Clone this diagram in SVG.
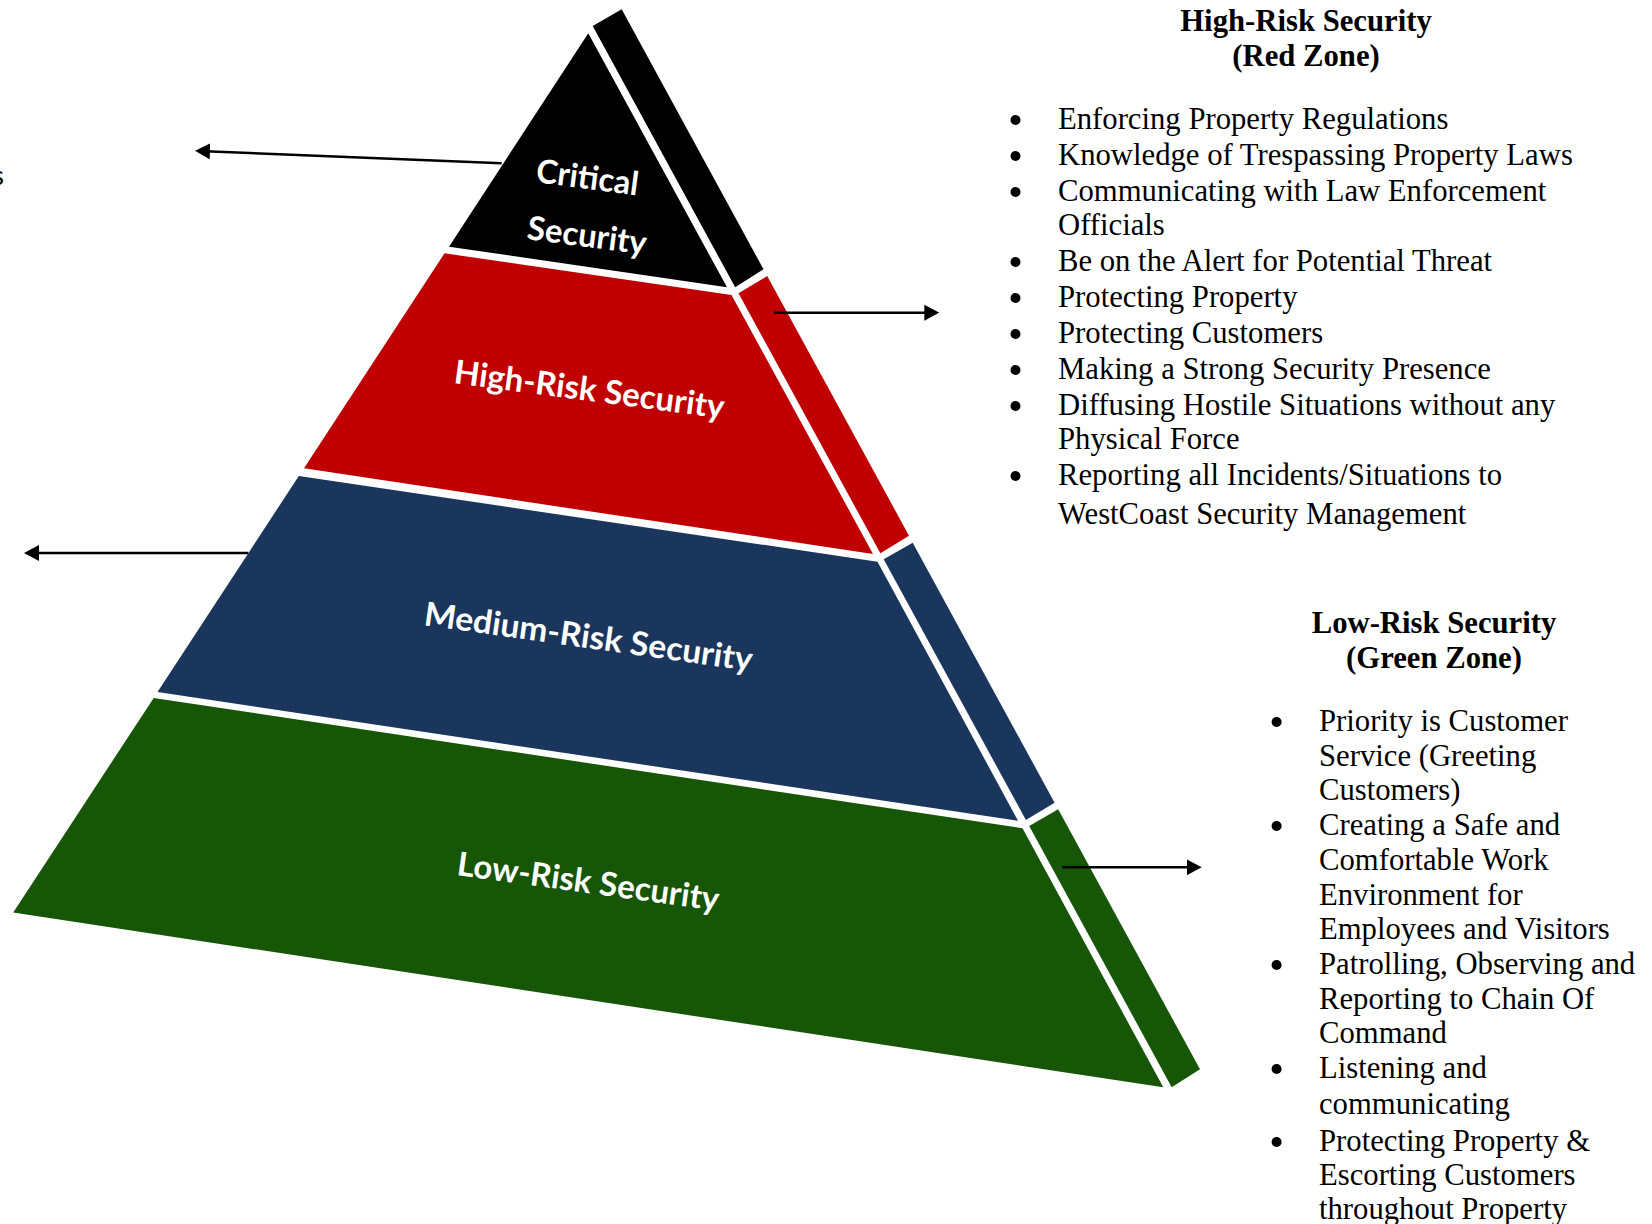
<svg xmlns="http://www.w3.org/2000/svg" width="1652" height="1224" viewBox="0 0 1652 1224">
<style>
.lbl{font-family:Lato,"Open Sans","Liberation Sans",sans-serif;font-weight:700;font-size:33px;fill:#ffffff}
.body{font-family:"Liberation Serif","Times New Roman",serif;font-size:30.7px;fill:#000000}
.head{font-family:"Liberation Serif","Times New Roman",serif;font-size:30.7px;font-weight:700;fill:#000000;text-anchor:middle}
.conn{stroke:#000000;stroke-width:2.5;fill:none}
.dot{fill:#000000}
.frag{font-family:Lato,"Open Sans","Liberation Sans",sans-serif;font-size:27px;fill:#000000}
</style>
<defs>
<marker id="ah" viewBox="0 0 15 16" refX="11" refY="8" markerWidth="15" markerHeight="16" markerUnits="userSpaceOnUse" orient="auto">
<path d="M0,0 L15,8 L0,16 z" fill="#000000"/>
</marker>
</defs>
<rect width="1652" height="1224" fill="#ffffff"/>

<g id="fragment-left">
<text class="frag" x="4" y="185" text-anchor="end">s</text>
</g>

<g id="tier-critical">
<polygon points="588.3,33.3 449,246.7 727,287.3" fill="#000000"/>
<polygon points="592.7,26 621.7,9.3 763.5,269.3 735.2,287.3" fill="#000000"/>
<text class="lbl" x="535" y="182" transform="rotate(7.5 535 182)" textLength="103" lengthAdjust="spacingAndGlyphs">Critical</text>
<text class="lbl" x="526" y="239" transform="rotate(7.5 526 239)" textLength="120" lengthAdjust="spacingAndGlyphs">Security</text>
</g>

<g id="tier-high">
<polygon points="444.5,253.3 304,468.3 873,554 731.5,295" fill="#C00000"/>
<polygon points="738.5,293.3 767.2,276 909,535.7 880.4,553.3" fill="#C00000"/>
<text class="lbl" x="453" y="383" transform="rotate(7.5 453 383)" textLength="272" lengthAdjust="spacingAndGlyphs">High-Risk Security</text>
</g>

<g id="tier-medium">
<polygon points="298.8,476 157.5,692 1018,820.7 877.5,561.7" fill="#1A365D"/>
<polygon points="883.7,559.3 912.7,542.7 1054.6,802.7 1025.9,820" fill="#1A365D"/>
<text class="lbl" x="423" y="625" transform="rotate(8 423 625)" textLength="331" lengthAdjust="spacingAndGlyphs">Medium-Risk Security</text>
</g>

<g id="tier-low">
<polygon points="153.7,697.9 13.2,912.5 1163.3,1087.3 1022.5,828.3" fill="#175607"/>
<polygon points="1029.2,826 1058.2,809.3 1200,1069.3 1171.7,1087.3" fill="#175607"/>
<text class="lbl" x="456" y="875" transform="rotate(7.8 456 875)" textLength="264" lengthAdjust="spacingAndGlyphs">Low-Risk Security</text>
</g>

<g id="connectors">
<path class="conn" d="M501.7,163.3 L199,150.9" marker-end="url(#ah)"/>
<path class="conn" d="M248.3,553 L28,553" marker-end="url(#ah)"/>
<path class="conn" d="M774,312.7 L935.3,312.7" marker-end="url(#ah)"/>
<path class="conn" d="M1062.3,867.3 L1197.7,867.3" marker-end="url(#ah)"/>
</g>

<g id="panel-high-risk">
<text class="head" x="1306" y="31">High-Risk Security</text>
<text class="head" x="1306" y="66">(Red Zone)</text>
<circle class="dot" cx="1015.5" cy="120" r="5"/>
<circle class="dot" cx="1015.5" cy="156" r="5"/>
<circle class="dot" cx="1015.5" cy="192" r="5"/>
<circle class="dot" cx="1015.5" cy="262" r="5"/>
<circle class="dot" cx="1015.5" cy="298" r="5"/>
<circle class="dot" cx="1015.5" cy="334" r="5"/>
<circle class="dot" cx="1015.5" cy="370" r="5"/>
<circle class="dot" cx="1015.5" cy="406" r="5"/>
<circle class="dot" cx="1015.5" cy="476" r="5"/>
<text class="body" x="1058" y="129">Enforcing Property Regulations</text>
<text class="body" x="1058" y="165">Knowledge of Trespassing Property Laws</text>
<text class="body" x="1058" y="201">Communicating with Law Enforcement</text>
<text class="body" x="1058" y="235">Officials</text>
<text class="body" x="1058" y="271">Be on the Alert for Potential Threat</text>
<text class="body" x="1058" y="307">Protecting Property</text>
<text class="body" x="1058" y="343">Protecting Customers</text>
<text class="body" x="1058" y="379">Making a Strong Security Presence</text>
<text class="body" x="1058" y="415">Diffusing Hostile Situations without any</text>
<text class="body" x="1058" y="449">Physical Force</text>
<text class="body" x="1058" y="485">Reporting all Incidents/Situations to</text>
<text class="body" x="1058" y="524">WestCoast Security Management</text>
</g>

<g id="panel-low-risk">
<text class="head" x="1434" y="633">Low-Risk Security</text>
<text class="head" x="1434" y="668">(Green Zone)</text>
<circle class="dot" cx="1276.6" cy="722" r="5"/>
<circle class="dot" cx="1276.6" cy="826" r="5"/>
<circle class="dot" cx="1276.6" cy="965" r="5"/>
<circle class="dot" cx="1276.6" cy="1069" r="5"/>
<circle class="dot" cx="1276.6" cy="1142" r="5"/>
<text class="body" x="1319" y="731">Priority is Customer</text>
<text class="body" x="1319" y="766">Service (Greeting</text>
<text class="body" x="1319" y="800">Customers)</text>
<text class="body" x="1319" y="835">Creating a Safe and</text>
<text class="body" x="1319" y="870">Comfortable Work</text>
<text class="body" x="1319" y="905">Environment for</text>
<text class="body" x="1319" y="939">Employees and Visitors</text>
<text class="body" x="1319" y="974">Patrolling, Observing and</text>
<text class="body" x="1319" y="1009">Reporting to Chain Of</text>
<text class="body" x="1319" y="1043">Command</text>
<text class="body" x="1319" y="1078">Listening and</text>
<text class="body" x="1319" y="1114">communicating</text>
<text class="body" x="1319" y="1151">Protecting Property &amp;</text>
<text class="body" x="1319" y="1185">Escorting Customers</text>
<text class="body" x="1319" y="1219">throughout Property</text>
</g>
</svg>
